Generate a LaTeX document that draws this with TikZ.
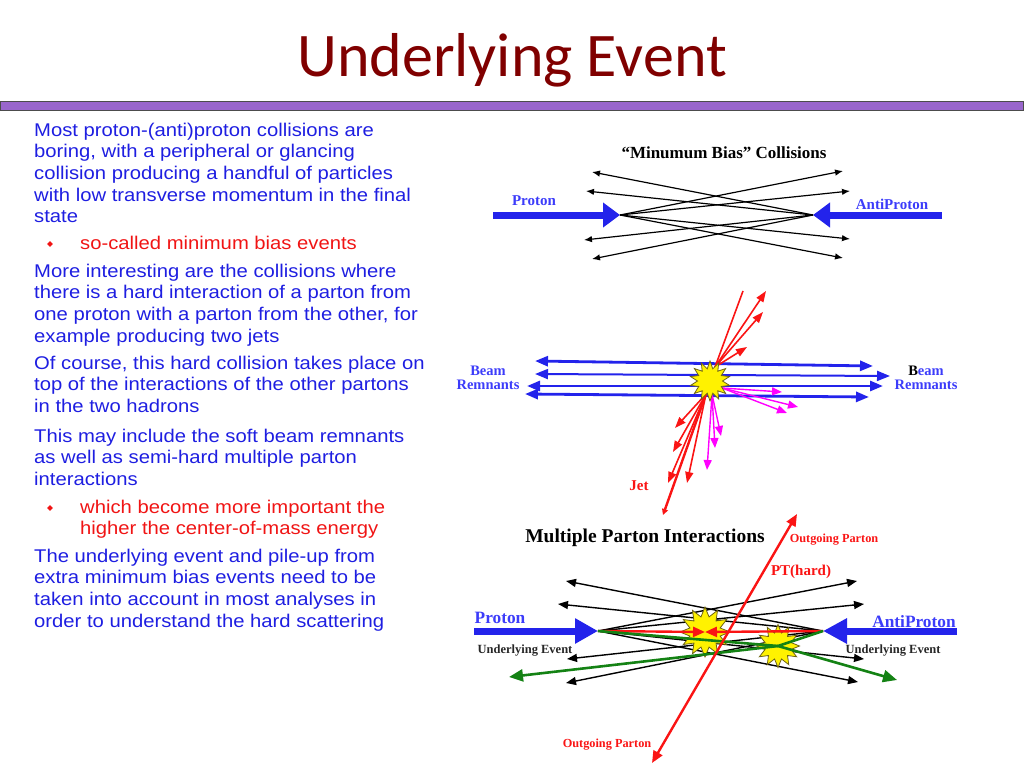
\documentclass[tikz,border=0pt]{standalone}
\usepackage{fontspec}
\setmainfont{Liberation Serif}
\newfontfamily\bodyfont[FakeStretch=1.1]{Liberation Sans}
\newfontfamily\titlefont{Carlito}
\usetikzlibrary{arrows.meta,shapes.geometric}
\definecolor{titlered}{RGB}{128,0,0}
\definecolor{barpurple}{RGB}{153,102,204}
\definecolor{textblue}{RGB}{30,30,225}
\definecolor{textred}{RGB}{240,20,20}
\definecolor{lblblue}{RGB}{60,60,250}
\definecolor{beamblue}{RGB}{35,35,235}
\definecolor{jetred}{RGB}{250,20,20}
\definecolor{softpink}{RGB}{255,0,255}
\definecolor{mpigreen}{RGB}{20,130,20}
\definecolor{starline}{RGB}{110,100,20}
\begin{document}
\begin{tikzpicture}[x=1pt,y=-1pt,
    para/.style={anchor=north west,inner sep=0,align=left,text=textblue,font=\bodyfont\fontsize{18.4}{21.7}\selectfont},
    subpara/.style={para,text=textred},
    bulletmark/.style={diamond,fill=textred,inner sep=0,minimum size=6pt},
    lbl/.style={inner sep=0,font=\bfseries\fontsize{#1}{#1}\selectfont},
    beam/.style={line width=7pt,draw=beamblue,-{Triangle[length=#1,width=24pt]}},
    mbarrow/.style={line width=1.2pt,-{Latex[length=8pt,width=6.5pt]}},
    uearrow/.style={line width=1.4pt,-{Triangle[length=10pt,width=8pt]}},
    remnant/.style={draw=beamblue,line width=#1,{Triangle[length=13pt,width=10pt]}-{Triangle[length=13pt,width=10pt]}},
    jet/.style={draw=jetred,line width=1.6pt,-{Triangle[length=11pt,width=8pt]}},
    soft/.style={draw=softpink,line width=1.4pt,-{Triangle[length=10pt,width=8pt]}},
    hit/.style={star,star points=#1,star point ratio=1.6,fill=yellow,draw=starline,line width=0.8pt,inner sep=0},
    parton/.style={draw=jetred,line width=2.4pt,-{Triangle[length=12pt,width=10pt]}},
    mpi/.style={draw=mpigreen,line width=2.6pt}]
\useasboundingbox (0,0) rectangle (1024,768);
% title and bar
\node[anchor=base,inner sep=0,text=titlered,font=\titlefont\fontsize{62}{62}\selectfont] (title) at (512,77) {Underlying Event};
\draw[fill=barpurple,draw=black!70,line width=1pt] (0.5,101) rectangle (1023.5,110);
% text
\node[para] (p1) at (34,122.6) {Most proton-(anti)proton collisions are\\boring, with a peripheral or glancing\\collision producing a handful of particles\\with low transverse momentum in the final\\state};
\node[bulletmark] (b1) at (50,244) {};
\node[subpara] (s1) at (80,235.6) {so-called minimum bias events};
\node[para] (p2) at (34,263.6) {More interesting are the collisions where\\there is a hard interaction of a parton from\\one proton with a parton from the other, for\\example producing two jets};
\node[para] (p3) at (34,355.6) {Of course, this hard collision takes place on\\top of the interactions of the other partons\\in the two hadrons};
\node[para] (p4) at (34,428.6) {This may include the soft beam remnants\\as well as semi-hard multiple parton\\interactions};
\node[bulletmark] (b2) at (50,508) {};
\node[subpara] (s2) at (80,499.6) {which become more important the\\higher the center-of-mass energy};
\node[para] (p5) at (34,548.6) {The underlying event and pile-up from\\extra minimum bias events need to be\\taken into account in most analyses in\\order to understand the hard scattering};
% minimum bias
\node[lbl=17] (mbtitle) at (724,153) {“Minumum Bias” Collisions};
\coordinate (pTail) at (493,215);
\coordinate (pL) at (620,215);
\coordinate (aTail) at (942,215);
\coordinate (pR) at (813,215);
\draw[beam=17pt] (pTail) -- (pL);
\draw[beam=17pt] (aTail) -- (pR);
\node[lbl=15,text=lblblue] (proton) at (534,201) {Proton};
\node[lbl=15,text=lblblue] (antiproton) at (892,204) {AntiProton};
\foreach \x/\y [count=\i] in {843/171,850/191,850/239,843/258}{
  \coordinate (mr\i) at (\x,\y);
  \draw[mbarrow] (pL) -- (mr\i);}
\foreach \x/\y [count=\i] in {592/172,586/191,584/240,592/259}{
  \coordinate (ml\i) at (\x,\y);
  \draw[mbarrow] (pR) -- (ml\i);}
% hard scattering
\coordinate (hc) at (710,381);
\foreach \a/\b/\c/\d/\w [count=\i] in {535/361/873/366/2.8pt,535/374/890/376/2pt,527/386/883/386/2.8pt,525/394/869/397/2.8pt}{
  \coordinate (bl\i) at (\a,\b);
  \coordinate (br\i) at (\c,\d);
  \draw[remnant=\w] (bl\i) -- (br\i);}
\coordinate (jt) at (715,367);
\coordinate (jb) at (706,394);
\coordinate (jend) at (743,291);
\draw[jetred,line width=1.6pt] (jt) -- (jend);
\foreach \x/\y [count=\i] in {766/291,763/312,747/347}{
  \coordinate (ju\i) at (\x,\y);
  \draw[jet] (jt) -- (ju\i);}
\foreach \x/\y [count=\i] in {675/428,673/452,668/483,687/483}{
  \coordinate (jd\i) at (\x,\y);
  \draw[jet] (jb) -- (jd\i);}
\coordinate (jlong) at (663,515);
\draw[jet,line width=2.4pt,-{Triangle[length=6pt,width=6pt]}] (jb) -- (jlong);
\coordinate (sr) at (722,388);
\coordinate (sb) at (712,394);
\foreach \x/\y [count=\i] in {782/392,798/407,787/413}{
  \coordinate (sr\i) at (\x,\y);
  \draw[soft] (sr) -- (sr\i);}
\foreach \x/\y [count=\i] in {721/436,715/448,707/470}{
  \coordinate (sd\i) at (\x,\y);
  \draw[soft] (sb) -- (sd\i);}
\node[hit=14,minimum size=40pt] (hard) at (hc) {};
\node[lbl=14.5,text=lblblue,align=center] (remL) at (488,378) {Beam\\Remnants};
\node[lbl=14.5,text=lblblue,align=center] (remR) at (926,378) {\textcolor{black}{B}eam\\Remnants};
\node[lbl=15,text=jetred] (jet) at (639,486) {Jet};
% multiple parton interactions
\node[lbl=19.5] (mpititle) at (645,538) {Multiple Parton Interactions};
\coordinate (qTail) at (474,631);
\coordinate (qL) at (598,631);
\coordinate (bTail) at (957,631);
\coordinate (qR) at (823,631);
\draw[beam=23pt] (qTail) -- (qL);
\draw[beam=24pt] (bTail) -- (qR);
\foreach \x/\y [count=\i] in {857/581,864/604,864/659,858/682}{
  \coordinate (ur\i) at (\x,\y);
  \draw[uearrow] (qL) -- (ur\i);}
\foreach \x/\y [count=\i] in {566/581,558/604,567/659,566/683}{
  \coordinate (ul\i) at (\x,\y);
  \draw[uearrow] (qR) -- (ul\i);}
\node[hit=12,minimum size=50pt] (hit1) at (705,632) {};
\node[hit=12,minimum size=43pt] (hit2) at (778,646) {};
\draw[parton] (qL) -- (hit1.center);
\draw[parton] (qR) -- (hit1.center);
\draw[mpi] (qL) -- (hit2.center);
\draw[mpi] (qR) -- (hit2.center);
\coordinate (gl) at (509,677);
\coordinate (gr) at (897,680);
\draw[mpi,-{Triangle[length=14pt,width=12pt]}] (hit2.center) -- (gl);
\draw[mpi,-{Triangle[length=14pt,width=12pt]}] (hit2.center) -- (gr);
\coordinate (outT) at (797,514);
\coordinate (outB) at (652,763);
\draw[parton,{Triangle[length=12pt,width=10pt]}-{Triangle[length=12pt,width=10pt]}] (outB) -- (outT);
\node[lbl=12.3,text=jetred] (outTop) at (834,540) {Outgoing Parton};
\node[lbl=12.3,text=jetred] (outBot) at (607,745) {Outgoing Parton};
\node[lbl=15,text=jetred] (pthard) at (801,572) {PT(hard)};
\node[lbl=17.3,text=lblblue] (proton2) at (500,618) {Proton};
\node[lbl=17.3,text=lblblue] (antiproton2) at (914,622) {AntiProton};
\node[lbl=12.5,text=black!85] (ueL) at (525,651) {Underlying Event};
\node[lbl=12.5,text=black!85] (ueR) at (893,651) {Underlying Event};
\end{tikzpicture}
\end{document}
